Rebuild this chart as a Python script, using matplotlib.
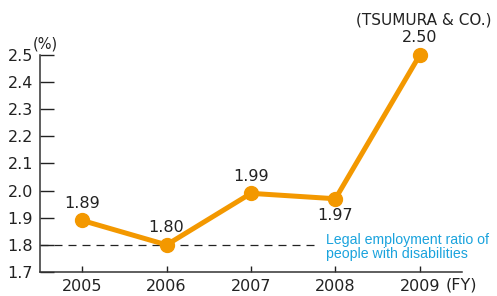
import matplotlib
matplotlib.use("Agg")
import matplotlib.pyplot as plt

years = [2005, 2006, 2007, 2008, 2009]
ratios = [1.89, 1.80, 1.99, 1.97, 2.50]
value_labels = ["1.89", "1.80", "1.99", "1.97", "2.50"]
label_above = [True, True, True, False, True]
legal_ratio = 1.8
yticks = [1.7, 1.8, 1.9, 2.0, 2.1, 2.2, 2.3, 2.4, 2.5]

plt.rcParams['font.family'] = ['DejaVu Sans']

W, H = 497, 296
fig = plt.figure(figsize=(W/100, H/100), dpi=100)
ax = fig.add_axes([40/W, (H-272)/H, (462-40)/W, (272-55)/H])

orange = '#F39800'
ax.plot(years, ratios, color=orange, lw=3.6, marker='o', ms=10, zorder=3,
        solid_capstyle='round', clip_on=False)
ax.plot([2004.5, 2007.8], [legal_ratio, legal_ratio], color='#222222', lw=0.9,
        ls=(0, (6.4, 4.8)), zorder=1)

for x, y, t, above in zip(years, ratios, value_labels, label_above):
    if above:
        ax.annotate(t, (x, y), xytext=(0, 7), textcoords='offset points',
                    ha='center', va='bottom', fontsize=11.5, color='#222222')
    else:
        ax.annotate(t, (x, y), xytext=(0, -7), textcoords='offset points',
                    ha='center', va='top', fontsize=11.5, color='#222222')

ax.set_xlim(2004.5, 2009.5)
ax.set_ylim(1.7, 2.5)
ax.set_yticks(yticks)
ax.set_yticklabels([f"{v:.1f}" for v in yticks])
ax.set_xticks(years)
ax.set_xticklabels([str(y) for y in years])
ax.tick_params(axis='y', direction='in', length=10, width=1, labelsize=11.5,
               pad=5, colors='#222222')
ax.tick_params(axis='x', direction='in', length=4, width=1, labelsize=11.5,
               pad=5, colors='#222222')
for s in ['top', 'right']:
    ax.spines[s].set_visible(False)
for s in ['left', 'bottom']:
    ax.spines[s].set_color('#333333')
    ax.spines[s].set_linewidth(1.1)

fig.text(33/W, 1-44/H, "(%)", fontsize=10.5, color='#222222', va='center', ha='left')
fig.text(424/W, 1-20/H, "(TSUMURA & CO.)", fontsize=11, color='#222222',
         va='center', ha='center')
fig.text(446/W, 1-285/H, "(FY)", fontsize=11.5, color='#222222', va='center', ha='left')
fig.text(326/W, 1-247/H, "Legal employment ratio of\npeople with disabilities",
         fontsize=10.2, color='#1AA3DD', va='center', ha='left', linespacing=1.05,
         family=['Liberation Sans'])

fig.savefig("out.png", dpi=100)
